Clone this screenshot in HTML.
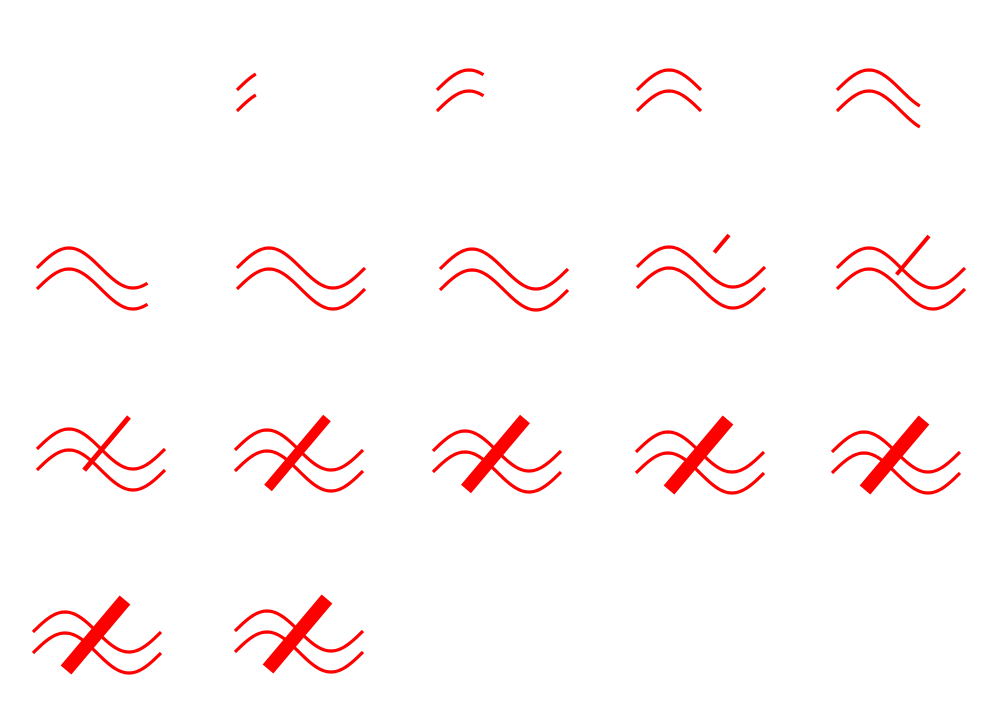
<!DOCTYPE html>
<html><head><meta charset="utf-8"><style>
html,body{margin:0;padding:0;background:#fff;width:1000px;height:720px;overflow:hidden}
svg{display:block}
</style></head><body>
<svg id="s" width="1000" height="720" viewBox="0 0 1000 720"></svg>
<script>
const frameX = [0,237,437,637,837, 37,237,440,637,837, 37,235,433,636,832, 33,235];
const frameY = [90,90,90,90,90, 268,268,269,267,268, 449,450,451,452,452, 632,631];
const waveFrac = [0,0.16,0.35,0.5,0.66, 0.85,1,1,1,1, 1,1,1,1,1, 1,1];
const slashFrac = [0,0,0,0,0, 0,0,0,0.25,0.55, 0.76,1,1,1,1, 1,1];
const slashW = [0,0,0,0,0, 0,0,0,4,4, 5,10,13,14,14, 14,14];
const NS='http://www.w3.org/2000/svg';
const svg=document.getElementById('s');
function wavePath(dy){
  let d='';
  for(let i=0;i<=64;i++){const x=i*2;const y=dy-20*Math.sin(2*Math.PI*x/128);d+=(i?'L':'M')+x+' '+y.toFixed(2);}
  return d;
}
for(let f=0;f<frameX.length;f++){
  const g=document.createElementNS(NS,'g');
  
  
  g.setAttribute('transform','translate('+frameX[f]+','+frameY[f]+')');
  svg.appendChild(g);
  if(waveFrac[f]>0){
    [0,21].forEach((dy,k)=>{
      const p=document.createElementNS(NS,'path');
      
      
      p.setAttribute('d',wavePath(dy));
      p.setAttribute('pathLength','1');
      p.setAttribute('fill','none');
      p.setAttribute('stroke','#ff0000');
      p.setAttribute('stroke-width','3.2');
      p.setAttribute('stroke-dasharray',waveFrac[f]+' 2');
      g.appendChild(p);
    });
  }
  if(slashFrac[f]>0){
    const T=[92,-32],B=[33,38],t=slashFrac[f];
    const l=document.createElementNS(NS,'line');
    
    
    l.setAttribute('x1',T[0]);l.setAttribute('y1',T[1]);
    l.setAttribute('x2',T[0]+(B[0]-T[0])*t);l.setAttribute('y2',T[1]+(B[1]-T[1])*t);
    l.setAttribute('stroke','#ff0000');
    l.setAttribute('stroke-width',slashW[f]);
    g.appendChild(l);
  }
}
</script>
</body></html>
